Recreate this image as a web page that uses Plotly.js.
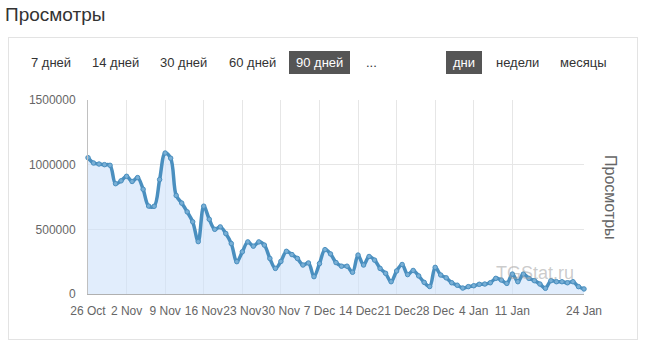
<!DOCTYPE html>
<html>
<head>
<meta charset="utf-8">
<script src="https://cdn.plot.ly/plotly-3.0.1.min.js"></script>
<style>
  html, body { margin: 0; padding: 0; background: #fff; }
  body { width: 646px; height: 360px; position: relative; overflow: hidden;
         font-family: "Liberation Sans", Arial, sans-serif; }
  #title { position: absolute; left: 5px; top: 4px; font-size: 19px; color: #333; }
  #panel { position: absolute; left: 8px; top: 37px; width: 630px; height: 303px;
           border: 1px solid #e3e3e3; box-sizing: border-box; }
  .btn { position: absolute; top: 51px; height: 23px; line-height: 23px; font-size: 13px;
         color: #333; padding: 0 7px; white-space: nowrap; }
  .btn.on { background: #555; color: #fff; }
  #chart { position: absolute; left: 0; top: 0; width: 646px; height: 360px; }
</style>
</head>
<body>
<div id="title">Просмотры</div>
<div id="panel"></div>
<div id="buttons"></div>
<div id="chart"></div>
<script>
// ---- data ----
var startDate = '2020-10-26';
var views = [
  1054000, 1013000, 1005000, 1000000, 995000, 853000, 875000, 910000, 870000, 900000,
  810000, 680000, 678000, 885000, 1090000, 1050000, 762000, 703000, 635000, 558000,
  405000, 679000, 578000, 500000, 519000, 468000, 390000, 250000, 326000, 403000,
  370000, 403000, 378000, 275000, 198000, 252000, 330000, 305000, 275000, 224000,
  240000, 134000, 235000, 343000, 310000, 243000, 215000, 215000, 168000, 301000,
  224000, 290000, 262000, 198000, 160000, 95000, 178000, 228000, 150000, 182000,
  140000, 90000, 58000, 206000, 147000, 125000, 87000, 68000, 46000, 57000,
  64000, 75000, 77000, 87000, 121000, 108000, 82000, 154000, 95000, 154000,
  121000, 103000, 77000, 44000, 103000, 95000, 95000, 87000, 95000, 57000,
  39000
];
var xTickVals = ['2020-10-26','2020-11-02','2020-11-09','2020-11-16','2020-11-23','2020-11-30',
  '2020-12-07','2020-12-14','2020-12-21','2020-12-28','2021-01-04','2021-01-11','2021-01-24'];
var xTickText = ['26 Oct','2 Nov','9 Nov','16 Nov','23 Nov','30 Nov','7 Dec','14 Dec',
  '21 Dec','28 Dec','4 Jan','11 Jan','24 Jan'];
var yTickVals = [0, 500000, 1000000, 1500000];
var yTickText = ['0', '500000', '1000000', '1500000'];
var periodButtons = ['7 дней', '14 дней', '30 дней', '60 дней', '90 дней', '...'];
var unitButtons = ['дни', 'недели', 'месяцы'];
var seriesName = 'Просмотры';
var watermark = 'TGStat.ru';

// ---- dates (one per day) ----
var dates = [];
(function () {
  var d0 = new Date(startDate + 'T00:00:00Z');
  for (var i = 0; i < views.length; i++) {
    var d = new Date(d0.getTime() + i * 86400000);
    dates.push(d.toISOString().slice(0, 10));
  }
})();

// ---- buttons (html chrome) ----
var btnPos = [24, 85, 153, 222, 289, 359];
var unitPos = [446, 489, 553];
var holder = document.getElementById('buttons');
periodButtons.forEach(function (t, i) {
  var b = document.createElement('div');
  b.className = 'btn' + (t === '90 дней' ? ' on' : '');
  b.style.left = btnPos[i] + 'px';
  b.textContent = t;
  holder.appendChild(b);
});
unitButtons.forEach(function (t, i) {
  var b = document.createElement('div');
  b.className = 'btn' + (t === 'дни' ? ' on' : '');
  b.style.left = unitPos[i] + 'px';
  b.textContent = t;
  holder.appendChild(b);
});

// ---- chart ----
var trace = {
  x: dates,
  y: views,
  type: 'scatter',
  mode: 'lines+markers',
  name: seriesName,
  line: { color: '#4a8fbf', width: 3.5, shape: 'spline', smoothing: 1.0 },
  marker: { size: 4.5, color: '#78afd6', line: { color: '#4a8fbf', width: 1 } },
  fill: 'tozeroy',
  fillcolor: 'rgba(205,225,250,0.6)',
  cliponaxis: false,
  hoverinfo: 'skip'
};

var layout = {
  width: 646,
  height: 360,
  margin: { l: 88, r: 62, t: 100, b: 66 },
  paper_bgcolor: 'rgba(0,0,0,0)',
  plot_bgcolor: 'rgba(0,0,0,0)',
  showlegend: false,
  font: { family: '"Liberation Sans", Arial, sans-serif', size: 12, color: '#666' },
  xaxis: {
    type: 'date',
    range: [dates[0], dates[dates.length - 1]],
    tickmode: 'array',
    tickvals: xTickVals,
    ticktext: xTickText,
    tickangle: 0,
    showgrid: true,
    gridcolor: '#e6e6e6',
    gridwidth: 1,
    showline: true,
    linecolor: '#b0b0b0',
    linewidth: 1,
    ticks: '',
    ticklabelstandoff: 6,
    tickfont: { size: 12, color: '#666' },
    zeroline: false,
    fixedrange: true
  },
  yaxis: {
    range: [0, 1500000],
    tickmode: 'array',
    tickvals: yTickVals,
    ticktext: yTickText,
    showgrid: true,
    gridcolor: '#e6e6e6',
    gridwidth: 1,
    showline: true,
    linecolor: '#c0c0c0',
    linewidth: 1,
    ticks: '',
    ticklabelstandoff: 9,
    tickfont: { size: 12, color: '#666' },
    zeroline: false,
    fixedrange: true
  },
  annotations: [
    {
      text: seriesName, xref: 'paper', yref: 'paper',
      x: (611 - 88) / 496, y: (294 - 197) / 194,
      xanchor: 'center', yanchor: 'middle', showarrow: false,
      textangle: 90, font: { size: 16, color: '#666' }
    },
    {
      text: watermark, xref: 'paper', yref: 'paper',
      x: (535 - 88) / 496, y: (294 - 273) / 194,
      xanchor: 'center', yanchor: 'middle', showarrow: false,
      font: { size: 18, color: 'rgba(160,160,160,0.55)' }
    }
  ]
};

Plotly.newPlot('chart', [trace], layout, { displayModeBar: false, staticPlot: true });
</script>
</body>
</html>
